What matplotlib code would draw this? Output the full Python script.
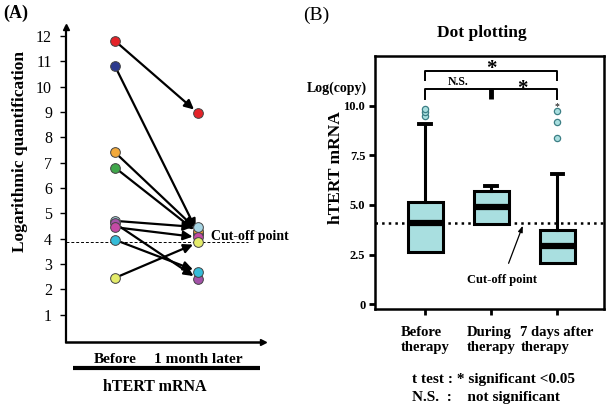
import matplotlib
matplotlib.use("Agg")
import matplotlib.pyplot as plt

plt.rcParams['font.family'] = ['Liberation Serif', 'DejaVu Serif']

# Panel A: paired values per patient (before -> 1 month later)
before_vals = [11.8, 10.8, 6.8, 7.4, 4.7, 4.6, 4.45, 3.95, 2.45]
after_vals = [8.95, 4.2, 4.22, 4.3, 4.45, 2.4, 4.05, 2.7, 3.85]
patient_colors = ['#e42228', '#2c3a8e', '#3fa64a', '#f2a93b', '#a6d5e4',
                  '#a352a8', '#c44aa5', '#35bcd8', '#e4ec6a']
a_categories = ['Before', '1 month later']
a_yticks = [1, 2, 3, 4, 5, 6, 7, 8, 9, 10, 11, 12]
a_cutoff = 3.85

# Panel B: box summaries
b_categories = ['Before\ntherapy', 'During\ntherapy', '7 days after\ntherapy']
b_q1 = [2.65, 4.05, 2.08]
b_median = [4.07, 4.9, 2.93]
b_q3 = [5.15, 5.72, 3.75]
b_whislo = [2.65, 4.05, 2.08]
b_whishi = [9.07, 5.97, 6.57]
b_fliers = [[9.5, 9.68, 9.86], [], [8.38, 9.2, 9.75]]
b_yticks = [0, 2.5, 5.0, 7.5, 10.0]
b_yticklabels = ['0', '2.5', '5.0', '7.5', '10.0']
b_cutoff = 4.07

W, H = 614, 418
fig = plt.figure(figsize=(W / 100, H / 100), dpi=100)


def rect(left, top, right, bottom):
    return [left / W, 1 - bottom / H, (right - left) / W, (bottom - top) / H]


# ---------------- Panel A ----------------
ax = fig.add_axes(rect(66, 27, 263, 342))
ax.set_xlim(0.41, 2.78)
ax.set_ylim(-0.08, 12.35)
for s in ['top', 'right']:
    ax.spines[s].set_visible(False)
ax.spines['left'].set_linewidth(1.6)
ax.spines['bottom'].set_linewidth(1.8)
ax.plot(0, 1, '^k', ms=5, transform=ax.transAxes, clip_on=False)
ax.plot(1, 0, '>k', ms=5, transform=ax.transAxes, clip_on=False)

ax.set_yticks(a_yticks)
ax.set_yticklabels([str(t) for t in a_yticks], fontsize=11.5)
ax.tick_params(axis='y', direction='out', length=4, width=1, pad=6)
ax.set_xticks([1, 2])
ax.set_xticklabels(a_categories, fontsize=11, fontweight='bold')
ax.tick_params(axis='x', length=0, pad=8)

ax.plot([0, 0.925], [a_cutoff, a_cutoff], ls='--', lw=0.7, color='black',
        dashes=(3, 2), transform=ax.get_yaxis_transform(), clip_on=False)
ax.text(2.15, 4.1, 'Cut-off point', fontsize=10, fontweight='bold',
        va='center', ha='left')

for b, a, c in zip(before_vals, after_vals, patient_colors):
    ax.annotate('', xy=(2, a), xytext=(1, b),
                arrowprops=dict(arrowstyle='-|>,head_length=0.55,head_width=0.27',
                                color='black', lw=1.6, shrinkA=4, shrinkB=4),
                zorder=2)
for i, (b, a, c) in enumerate(zip(before_vals, after_vals, patient_colors)):
    ax.plot([1], [b], 'o', ms=7, mfc=c, mec='#444444', mew=0.7, zorder=3 + i)
    ax.plot([2], [a], 'o', ms=7, mfc=c, mec='#444444', mew=0.7, zorder=3 + i)

ax.plot([0.036, 0.985], [-0.083, -0.083], lw=3, color='black',
        transform=ax.transAxes, clip_on=False, solid_capstyle='butt')
ax.text(0.452, -0.143, 'hTERT mRNA', fontsize=11.5, fontweight='bold',
        ha='center', va='center', transform=ax.transAxes)

fig.text(20 / W, 1 - 152 / H, 'Logarithmic quantification', rotation=90,
         fontsize=12.5, fontweight='bold', ha='center', va='center')
fig.text(3 / W, 1 - 13 / H, '(A)', fontsize=13, fontweight='bold',
         ha='left', va='center')

# ---------------- Panel B ----------------
bx = fig.add_axes(rect(375, 56, 604, 309))
bx.set_xlim(0.242, 3.71)
bx.set_ylim(-0.25, 12.52)
for s in bx.spines.values():
    s.set_linewidth(1.8)

stats = []
for i in range(3):
    stats.append(dict(med=b_median[i], q1=b_q1[i], q3=b_q3[i],
                      whislo=b_whislo[i], whishi=b_whishi[i],
                      fliers=b_fliers[i]))
parts = bx.bxp(stats, positions=[1, 2, 3], widths=0.53, patch_artist=True,
               showfliers=True, capwidths=0.17,
               boxprops=dict(facecolor='#a9dfe0', edgecolor='black', linewidth=2.2),
               medianprops=dict(color='black', linewidth=4.5, solid_capstyle='butt'),
               whiskerprops=dict(color='black', linewidth=2.2),
               capprops=dict(color='black', linewidth=2.8),
               flierprops=dict(marker='o', markersize=4.5, markerfacecolor='#a9dfe0',
                               markeredgecolor='#3d7f85', markeredgewidth=0.9))
# no lower whiskers in the original
for cap in parts['caps'][0::2]:
    cap.set_visible(False)

bx.axhline(b_cutoff, ls=':', lw=1.8, color='black', zorder=1)

bx.set_yticks(b_yticks)
bx.set_yticklabels(b_yticklabels, fontsize=9, fontweight='bold')
bx.tick_params(axis='y', direction='out', length=4, width=2, pad=3)
bx.set_xticks([1, 2, 3])
bx.set_xticklabels(b_categories, fontsize=10.5, fontweight='bold',
                   multialignment='left', linespacing=1.25)
bx.tick_params(axis='x', direction='out', length=4, width=2, pad=8)

# significance brackets
bx.plot([1, 1, 3, 3], [11.3, 11.77, 11.77, 11.3], color='black', lw=1.4,
        clip_on=False)
bx.plot([1, 1, 3, 3], [10.35, 10.86, 10.86, 10.35], color='black', lw=1.4,
        clip_on=False)
bx.plot([2, 2], [10.86, 10.35], color='black', lw=3.5, solid_capstyle='butt')
bx.text(2, 11.85, '*', fontsize=15, fontweight='bold', ha='center', va='center')
bx.text(2.48, 10.85, '*', fontsize=15, fontweight='bold', ha='center', va='center')
bx.text(1.5, 11.2, 'N.S.', fontsize=8.5, fontweight='bold', ha='center', va='center')
bx.text(3, 9.95, '*', fontsize=7, ha='center', va='center')

bx.annotate('Cut-off point', xy=(2.48, 3.95), xytext=(2.17, 1.22),
            fontsize=9, fontweight='bold', ha='center', va='center',
            arrowprops=dict(arrowstyle='-|>,head_length=0.4,head_width=0.15',
                            color='black', lw=0.9, shrinkA=6, shrinkB=0))

fig.text(307 / W, 1 - 88 / H, 'Log(copy)', fontsize=10, fontweight='bold',
         ha='left', va='center')
fig.text(336 / W, 1 - 168 / H, 'hTERT mRNA', rotation=90, fontsize=12.5,
         fontweight='bold', ha='center', va='center')
fig.text(482 / W, 1 - 33 / H, 'Dot plotting', fontsize=12.5, fontweight='bold',
         ha='center', va='center')
fig.text(303 / W, 1 - 15 / H, '(B)', fontsize=14, ha='left', va='center')

fig.text(412 / W, 1 - 379 / H, 't test : * significant <0.05', fontsize=11,
         fontweight='bold', ha='left', va='center')
fig.text(412 / W, 1 - 397 / H, 'N.S.  :    not significant', fontsize=11,
         fontweight='bold', ha='left', va='center')

fig.savefig('out.png', dpi=100)
